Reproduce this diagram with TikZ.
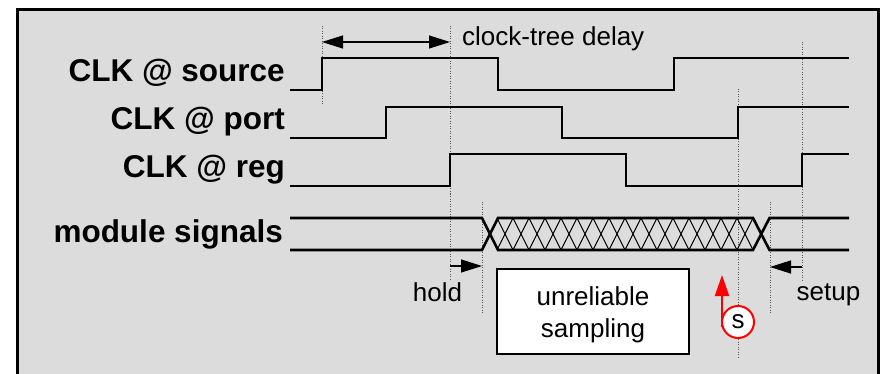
\documentclass[tikz,border=0pt]{standalone}
\usepackage{fontspec}
\setmainfont{Liberation Sans}
\usetikzlibrary{arrows.meta}
\definecolor{bg}{HTML}{DCDCDC}
\definecolor{guidegray}{HTML}{555555}
\begin{document}
\begin{tikzpicture}[x=1pt,y=-1pt,
  sig/.style={line width=2.6pt, line join=miter},
  hatchline/.style={line width=1.1pt},
  guide/.style={line width=0.8pt, dash pattern=on 1pt off 1.5pt, draw=guidegray},
  dimarrow/.style={line width=1.2pt, -{Triangle[length=21pt,width=13pt]}},
  lbl/.style={font=\fontsize{31.5}{36}\selectfont\bfseries, anchor=base east, inner sep=0pt},
  txt/.style={font=\fontsize{26}{30}\selectfont, inner sep=0pt},
]
\useasboundingbox (0,0) rectangle (886,374);
\fill[white] (0,0) rectangle (886,374);
\clip (0,0) rectangle (886,374);
\draw[line width=3pt, fill=bg] (17,10) rectangle (878,392);

% guide lines
\draw[guide] (322,26) -- (322,106);
\draw[guide] (450,26) -- (450,281);
\draw[guide] (482,202) -- (482,313);
\draw[guide] (738,89) -- (738,358);
\draw[guide] (770,202) -- (770,313);
\draw[guide] (802,42) -- (802,282);

% labels
\node[lbl] (lsrc) at (285,82) {CLK @ source};
\node[lbl] (lport) at (285,130) {CLK @ port};
\node[lbl] (lreg) at (285,178) {CLK @ reg};
\node[lbl] (lmod) at (283,242) {module signals};

% clock waveforms
\draw[sig] (290,90) -- (322,90) -- (322,58) -- (498,58) -- (498,90) -- (674,90) -- (674,58) -- (849,58);
\draw[sig] (290,138) -- (386,138) -- (386,107) -- (562,107) -- (562,138) -- (738,138) -- (738,107) -- (849,107);
\draw[sig] (290,186) -- (450,186) -- (450,154) -- (626,154) -- (626,186) -- (802,186) -- (802,154) -- (849,154);

% module signals
\foreach \k in {0,...,15} {
  \draw[hatchline] ({497+16*\k},218) -- ({513+16*\k},250);
  \draw[hatchline] ({513+16*\k},218) -- ({497+16*\k},250);
}
\draw[sig] (290,218) -- (482,218) -- (498,250) -- (753,250) -- (769.5,218) -- (849,218);
\draw[sig] (290,250) -- (482,250) -- (498,218) -- (753,218) -- (769.5,250) -- (849,250);

% clock-tree delay
\coordinate (ctL) at (322,42);
\coordinate (ctR) at (450,42);
\draw[line width=1.2pt, {Triangle[length=21pt,width=13pt]}-{Triangle[length=21pt,width=13pt]}] (ctL) -- (ctR);
\node[txt, anchor=base west] (ctd) at (462,46) {clock-tree delay};

% hold
\coordinate (hL) at (450,266);
\coordinate (hR) at (482,266);
\draw[dimarrow] (hL) -- (hR);
\node[txt, anchor=base] (hold) at (437.5,301) {hold};

% setup
\coordinate (sR) at (802,267);
\coordinate (sL) at (770,267);
\draw[dimarrow] (sR) -- (sL);
\node[txt, anchor=base] (setup) at (828.5,300) {setup};

% unreliable sampling box
\node[draw, line width=1.8pt, fill=white, minimum width=192pt, minimum height=85pt, inner sep=0pt] (box) at (593,311.5) {};
\node[txt, anchor=base] (t1) at (593,305) {unreliable};
\node[txt, anchor=base] (t2) at (593,337) {sampling};

% sample point
\node[circle, draw=red, line width=2pt, fill=white, minimum size=32pt, txt] (s) at (738,322) {s};
\coordinate (sTip) at (723,275);
\draw[red, line width=2pt, -{Triangle[length=21pt,width=14pt]}] ([xshift=1pt,yshift=-5pt]s.west) -- ([xshift=1pt]s.west |- sTip);
\end{tikzpicture}
\end{document}
